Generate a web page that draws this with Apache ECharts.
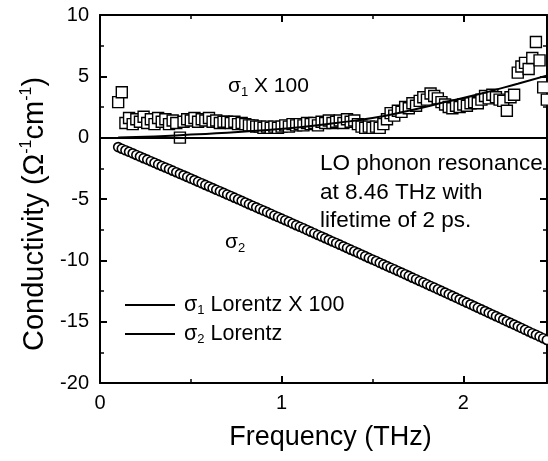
<!DOCTYPE html>
<html><head><meta charset="utf-8">
<script src="https://cdn.jsdelivr.net/npm/echarts@6/dist/echarts.min.js"></script>
<style>html,body{margin:0;padding:0;background:#fff}#c{width:548px;height:461px}</style>
</head><body><div id="c"></div>
<script>
// Frequency grid of the measured points (THz)
const freq = [0.10,0.12,0.14,0.16,0.18,0.20,0.22,0.24,0.26,0.28,0.30,0.32,0.34,0.36,0.38,0.40,0.42,0.44,0.46,0.48,
0.50,0.52,0.54,0.56,0.58,0.60,0.62,0.64,0.66,0.68,0.70,0.72,0.74,0.76,0.78,0.80,0.82,0.84,0.86,0.88,
0.90,0.92,0.94,0.96,0.98,1.00,1.02,1.04,1.06,1.08,1.10,1.12,1.14,1.16,1.18,1.20,1.22,1.24,1.26,1.28,
1.30,1.32,1.34,1.36,1.38,1.40,1.42,1.44,1.46,1.48,1.50,1.52,1.54,1.56,1.58,1.60,1.62,1.64,1.66,1.68,
1.70,1.72,1.74,1.76,1.78,1.80,1.82,1.84,1.86,1.88,1.90,1.92,1.94,1.96,1.98,2.00,2.02,2.04,2.06,2.08,
2.10,2.12,2.14,2.16,2.18,2.20,2.22,2.24,2.26,2.28,2.30,2.32,2.34,2.36,2.38,2.40,2.42,2.44,2.46];
// sigma1 x 100 (squares)
const sigma1x100 = [2.9,3.7,1.2,1.6,1.1,1.5,1.3,1.7,1.2,1.5,1.1,1.6,1.3,1.5,1.1,1.4,1.2,0.0,1.3,1.5,
1.4,1.6,1.3,1.5,1.4,1.6,1.3,1.4,1.2,1.3,1.3,1.2,1.3,1.1,1.2,1.1,1.0,1.0,0.9,0.9,
0.8,0.9,0.8,0.9,0.8,0.9,1.0,0.9,1.1,1.0,1.1,1.0,1.2,1.1,1.2,1.0,1.3,1.2,1.4,1.2,
1.3,1.4,1.2,1.5,1.3,1.4,1.1,0.9,0.8,0.9,0.8,0.9,0.8,1.1,1.5,2.0,1.8,2.2,2.1,2.5,
2.4,2.8,2.6,3.0,3.3,3.1,3.6,3.4,3.2,2.9,2.7,2.5,2.4,2.6,2.5,2.7,2.6,2.8,2.9,2.8,
3.1,3.4,3.2,3.5,3.3,3.1,3.0,2.2,3.3,3.5,5.3,5.8,6.1,5.6,6.5,7.8,6.3,4.1,3.1];
// sigma2 (circles)
const sigma2 = [-0.77,-0.90,-1.03,-1.15,-1.28,-1.41,-1.54,-1.67,-1.79,-1.92,-2.05,
-2.18,-2.31,-2.43,-2.56,-2.69,-2.82,-2.95,-3.07,-3.20,-3.33,
-3.46,-3.59,-3.72,-3.85,-3.98,-4.11,-4.24,-4.37,-4.50,-4.63,
-4.76,-4.89,-5.02,-5.15,-5.29,-5.42,-5.55,-5.68,-5.81,-5.94,
-6.07,-6.20,-6.34,-6.47,-6.60,-6.73,-6.86,-7.00,-7.13,-7.26,
-7.39,-7.53,-7.66,-7.79,-7.93,-8.06,-8.19,-8.33,-8.46,-8.59,
-8.72,-8.86,-8.99,-9.13,-9.26,-9.39,-9.53,-9.66,-9.80,-9.93,
-10.06,-10.20,-10.33,-10.47,-10.60,-10.73,-10.87,-11.00,-11.14,-11.27,
-11.41,-11.54,-11.68,-11.81,-11.95,-12.09,-12.22,-12.36,-12.49,-12.63,
-12.77,-12.90,-13.04,-13.18,-13.32,-13.45,-13.59,-13.73,-13.86,-14.00,
-14.14,-14.28,-14.41,-14.55,-14.69,-14.83,-14.97,-15.10,-15.24,-15.38,
-15.52,-15.66,-15.80,-15.94,-16.07,-16.21,-16.35,-16.49];
// Lorentz fits
const fitFreq1 = [0.10,0.30,0.50,0.70,0.90,1.10,1.30,1.50,1.70,1.90,2.10,2.30,2.47];
const fitSigma1x100 = [0.02,0.10,0.25,0.40,0.60,0.85,1.20,1.60,2.20,2.90,3.60,4.40,5.10];
const fitFreq2 = [0.10,0.50,1.00,1.50,2.00,2.47];
const fitSigma2 = [-0.77,-3.33,-6.60,-9.93,-13.32,-16.55];
const xTicks = [0,1,2];
const yTicks = [-20,-15,-10,-5,0,5,10];

const FONT = '"Liberation Sans", Arial, Helvetica, sans-serif';
const zip = (a,b)=>a.map((v,i)=>[v,b[i]]);

const chart = echarts.init(document.getElementById('c'), null, {renderer:'canvas'});
function axisCommon(){ return {
  axisLine:{show:true, onZero:false, lineStyle:{color:'#000', width:2}},
  axisTick:{show:true, inside:true, length:7, lineStyle:{color:'#000', width:2}},
  minorTick:{show:true, splitNumber:2, length:4, lineStyle:{color:'#000', width:1.5}},
  splitLine:{show:false}
};}
chart.setOption({
  animation:false,
  backgroundColor:'#fff',
  grid:{left:100, top:15, right:1, bottom:78, containLabel:false},
  xAxis:[
    Object.assign({type:'value', min:0, max:2.461, interval:1,
      name:'Frequency (THz)', nameLocation:'middle', nameGap:41,
      nameTextStyle:{fontFamily:FONT, fontSize:27, color:'#000', padding:[0,0,0,14]},
      axisLabel:{show:true, margin:10, fontFamily:FONT, fontSize:20, color:'#000', showMaxLabel:false,
        formatter:v=> xTicks.includes(v)? String(v):''}}, axisCommon()),
    Object.assign({type:'value', min:0, max:2.461, interval:1, position:'top',
      axisLabel:{show:false}}, axisCommon())
  ],
  yAxis:[
    Object.assign({type:'value', min:-20, max:10, interval:5,
      name:'{t|Conductivity (Ω}{s|-1}{t|cm}{s|-1}{t|)}', nameLocation:'middle', nameGap:48,
      nameTextStyle:{fontFamily:FONT, fontSize:29, color:'#000', padding:[0,30,0,0],
        rich:{t:{fontFamily:FONT, fontSize:29, color:'#000', lineHeight:32},
              s:{fontFamily:FONT, fontSize:16, color:'#000', verticalAlign:'top', lineHeight:32, padding:[0,0,13,0]}}},
      axisLabel:{show:true, margin:11, fontFamily:FONT, fontSize:20, color:'#000',
        formatter:v=> yTicks.includes(v)? String(v):''}}, axisCommon()),
    Object.assign({type:'value', min:-20, max:10, interval:5, position:'right',
      axisLabel:{show:false}}, axisCommon())
  ],
  legend:{
    show:true, orient:'vertical', left:120, top:289, itemWidth:50, itemHeight:2, itemGap:6,
    icon:'rect',
    data:[{name:'s1fit'},{name:'s2fit'}],
    formatter:n=> n==='s1fit' ? '{g|σ}{b|1}{t| Lorentz X 100}' : '{g|σ}{b|2}{t| Lorentz}',
    textStyle:{fontFamily:FONT, fontSize:21, color:'#000', padding:[0,0,0,4],
      rich:{t:{fontFamily:FONT, fontSize:21.5, color:'#000', lineHeight:24},
            g:{fontFamily:FONT, fontSize:21.5, color:'#000', lineHeight:24},
            b:{fontFamily:FONT, fontSize:13, color:'#000', verticalAlign:'bottom', lineHeight:24, padding:[10,0,0,0]}}}
  },
  graphic:[
    {type:'text', left:228, top:76, style:{text:'{g|σ}{b|1}{t| X 100}', fill:'#000',
      rich:{t:{fontFamily:FONT, fontSize:21, fill:'#000'}, g:{fontFamily:FONT, fontSize:21, fill:'#000'},
            b:{fontFamily:FONT, fontSize:13, fill:'#000', padding:[12,0,0,0]}}}},
    {type:'text', left:225, top:232, style:{text:'{g|σ}{b|2}', fill:'#000',
      rich:{g:{fontFamily:FONT, fontSize:21, fill:'#000'},
            b:{fontFamily:FONT, fontSize:13, fill:'#000', padding:[12,0,0,0]}}}},
    {type:'text', left:320, top:150, style:{text:'LO phonon resonance\nat 8.46 THz with\nlifetime of 2 ps.',
      fontFamily:FONT, fontSize:22.5, lineHeight:28.5, fill:'#000'}}
  ],
  series:[
    {name:'s1', type:'line', data:zip(freq, sigma1x100), showSymbol:true, symbol:'rect', symbolSize:11,
      lineStyle:{width:0, opacity:0}, itemStyle:{color:'#fff', borderColor:'#000', borderWidth:1.4}, z:3,
      markLine:{silent:true, symbol:'none', label:{show:false}, lineStyle:{color:'#000', width:2, type:'solid'},
        data:[{yAxis:0}]}},
    {name:'s2fit', type:'line', data:zip(fitFreq2, fitSigma2), showSymbol:false, smooth:true,
      lineStyle:{color:'#000', width:2}, itemStyle:{color:'#000'}, z:2},
    {name:'s2', type:'line', data:zip(freq, sigma2), showSymbol:true, symbol:'circle', symbolSize:9,
      lineStyle:{width:0, opacity:0}, itemStyle:{color:'#fff', borderColor:'#000', borderWidth:1.6}, z:4},
    {name:'s1fit', type:'line', data:zip(fitFreq1, fitSigma1x100), showSymbol:false, smooth:true,
      lineStyle:{color:'#000', width:2}, itemStyle:{color:'#000'}, z:5}
  ]
});
</script></body></html>
